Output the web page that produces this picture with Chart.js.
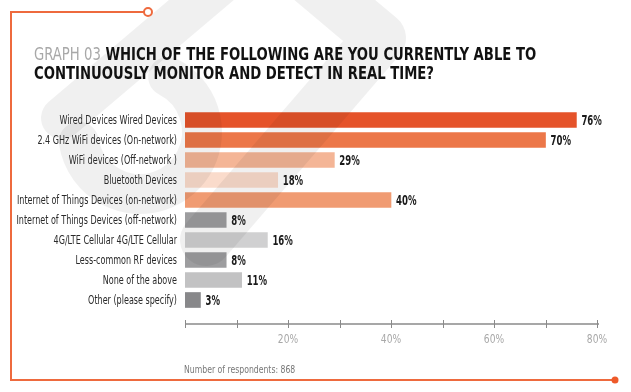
<!DOCTYPE html>
<html>
<head>
<meta charset="utf-8">
<script src="https://cdn.jsdelivr.net/npm/chart.js@4"></script>
<style>
  html, body { margin: 0; padding: 0; background: #fff; }
  #wrap { position: relative; width: 631px; height: 392px; overflow: hidden; }
  #myChart { position: absolute; left: 0; top: 0; }
  #frame { position: absolute; left: 0; top: 0; }
  .title {
    position: absolute; left: 34px; top: 44px; margin: 0;
    font-family: "DejaVu Sans Condensed", sans-serif;
    font-size: 18px; line-height: 19px; font-weight: bold; color: #111;
    white-space: nowrap; transform-origin: 0 0;
  }
  .title span { color: #a8a8a8; font-weight: normal; }
  .note {
    position: absolute; left: 184px; top: 364px;
    font-family: "DejaVu Sans Condensed", sans-serif;
    font-size: 10px; color: #777; white-space: nowrap;
    transform: scaleX(0.86); transform-origin: 0 0;
  }
</style>
</head>
<body>
<div id="wrap">
  <canvas id="myChart" width="631" height="392"></canvas>
  <svg id="frame" width="631" height="392">
    <polyline points="144,12 11,12 11,380 612,380" fill="none" stroke="#ee6a3e" stroke-width="2"/>
    <circle cx="148" cy="12" r="4" fill="#fff" stroke="#ee6a3e" stroke-width="2"/>
    <circle cx="615" cy="380" r="3.5" fill="#ee5a2a"/>
  </svg>
  <div class="title" id="title"><div id="line1"><span>GRAPH 03</span> WHICH OF THE FOLLOWING ARE YOU CURRENTLY ABLE TO</div><div>CONTINUOUSLY MONITOR AND DETECT IN REAL TIME?</div></div>
  <div class="note">Number of respondents: 868</div>
</div>
<script>
const categories = [
    'Wired Devices Wired Devices',
    '2.4 GHz WiFi devices (On-network)',
    'WiFi devices (Off-network )',
    'Bluetooth Devices',
    'Internet of Things Devices (on-network)',
    'Internet of Things Devices (off-network)',
    '4G/LTE Cellular 4G/LTE Cellular',
    'Less-common RF devices',
    'None of the above',
    'Other (please specify)'
];
const percents = [76, 70, 29, 18, 40, 8, 16, 8, 11, 3];
const barColors = ['#e5532a', '#ec7749', '#f4b596', '#fadbcb', '#f09b72',
                   '#9d9d9f', '#d0d0d1', '#9d9d9f', '#c2c2c3', '#88888a'];
const tickValues = [20, 40, 60, 80];

const condensed = '"DejaVu Sans Condensed", sans-serif';

// squeeze the title to the width of the original
const line1 = document.querySelector('#line1');
const titleBox = document.querySelector('#title');
titleBox.style.transform = 'scaleX(' + (502 / line1.scrollWidth) + ')';

// grey watermark shapes over the plot
const watermark = {
    id: 'watermark',
    afterDatasetsDraw(c) {
        const ctx = c.ctx;
        ctx.save();
        ctx.strokeStyle = 'rgba(0,0,0,0.06)';
        ctx.lineCap = 'round';
        ctx.lineJoin = 'round';
        ctx.lineWidth = 42;
        ctx.beginPath();
        ctx.moveTo(225, -20);
        ctx.lineTo(62, 118);
        ctx.stroke();
        ctx.lineWidth = 40;
        ctx.beginPath();
        ctx.arc(140, 132, 62, -Math.PI * 0.35, Math.PI * 0.95);
        ctx.stroke();
        ctx.lineWidth = 52;
        ctx.beginPath();
        ctx.moveTo(305, -25);
        ctx.lineTo(380, 38);
        ctx.lineTo(206, 240);
        ctx.stroke();
        ctx.restore();
    }
};

// axis line with ticks, axis texts and value labels
const extras = {
    id: 'extras',
    afterDraw(c) {
        const ctx = c.ctx;
        const x = c.scales.x;
        const y = c.scales.y;
        const yLine = c.chartArea.bottom + 14;
        ctx.save();
        ctx.strokeStyle = '#8a8a8a';
        ctx.lineWidth = 1.5;
        ctx.beginPath();
        ctx.moveTo(x.getPixelForValue(0), yLine);
        ctx.lineTo(x.getPixelForValue(80) + 2, yLine);
        ctx.stroke();
        ctx.lineWidth = 1;
        for (let v = 0; v <= 80; v += 10) {
            const px = Math.round(x.getPixelForValue(v)) + 0.5;
            ctx.beginPath();
            ctx.moveTo(px, yLine - 4);
            ctx.lineTo(px, yLine + 4);
            ctx.stroke();
        }

        ctx.textBaseline = 'middle';
        // x tick labels
        ctx.fillStyle = '#a8a8a8';
        ctx.font = '13px ' + condensed;
        ctx.textAlign = 'center';
        tickValues.forEach(v => {
            ctx.save();
            ctx.translate(x.getPixelForValue(v), yLine + 16);
            ctx.scale(0.78, 1);
            ctx.fillText(v + '%', 0, 0);
            ctx.restore();
        });

        // category labels
        ctx.fillStyle = '#2a2a2a';
        ctx.font = '12px ' + condensed;
        ctx.textAlign = 'right';
        categories.forEach((lab, i) => {
            ctx.save();
            ctx.translate(x.left - 8, y.getPixelForTick(i) + 1);
            ctx.scale(0.745, 1);
            ctx.fillText(lab, 0, 0);
            ctx.restore();
        });

        // value labels
        ctx.fillStyle = '#1a1a1a';
        ctx.font = 'bold 14px ' + condensed;
        ctx.textAlign = 'left';
        const meta = c.getDatasetMeta(0);
        meta.data.forEach((bar, i) => {
            ctx.save();
            ctx.translate(bar.x + 5, bar.y + 1);
            ctx.scale(0.68, 1);
            ctx.fillText(percents[i] + '%', 0, 0);
            ctx.restore();
        });
        ctx.restore();
    }
};

const chart = document.querySelector('#myChart');
const myChart = new Chart(chart, {
    type: 'bar',
    data: {
        labels: categories,
        datasets: [{
            data: percents,
            backgroundColor: barColors,
            borderWidth: 0,
            barThickness: 15
        }]
    },
    options: {
        indexAxis: 'y',
        responsive: false,
        animation: false,
        layout: { padding: { top: 110, right: 34, bottom: 40, left: 0 } },
        plugins: {
            legend: { display: false },
            tooltip: { enabled: false }
        },
        scales: {
            x: {
                min: 0,
                max: 80,
                grid: { display: false, drawTicks: false },
                border: { display: false },
                ticks: { display: false, stepSize: 10 },
                afterFit(scale) { scale.height = 42; }
            },
            y: {
                grid: { display: false },
                border: { display: false },
                ticks: { display: false },
                afterFit(scale) { scale.width = 185; }
            }
        }
    },
    plugins: [watermark, extras]
});
</script>
</body>
</html>
